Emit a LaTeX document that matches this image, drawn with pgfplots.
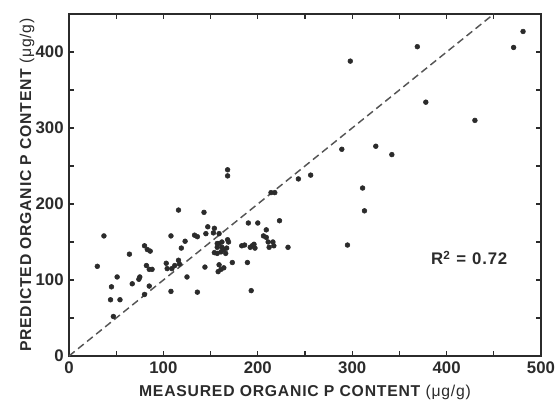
\documentclass[border=0pt]{standalone}
\usepackage{pgfplots}
\pgfplotsset{compat=1.18}
\usepackage{fontspec}
\setmainfont{Liberation Sans}
\definecolor{ink}{HTML}{2B2B2B}
\definecolor{dashc}{HTML}{555555}
\begin{document}
\begin{tikzpicture}
\useasboundingbox (-51.75pt,-35.25pt) rectangle ++(418.5pt,302.25pt);
\begin{axis}[
  at={(0,0)}, anchor=south west,
  scale only axis,
  width=354pt, height=256.5pt,
  xmin=0, xmax=500, ymin=0, ymax=450,
  xtick={0,100,...,500}, ytick={0,100,...,400},
  minor xtick={50,150,...,450}, minor ytick={50,150,...,450},
  tick align=inside,
  major tick length=3.8pt, minor tick length=3.8pt,
  every tick/.style={ink, line width=0.9pt},
  axis line style={ink, line width=1.4pt},
  /pgf/number format/assume math mode=true,
  tick label style={font=\bfseries\fontsize{12.6}{13}\selectfont, text=ink},
  xticklabel style={yshift=-1pt},
  yticklabel style={xshift=-0.5pt},
  xlabel={MEASURED ORGANIC P CONTENT {\mdseries(μg/g)}},
  ylabel={PREDICTED ORGANIC P CONTENT {\mdseries(μg/g)}},
  label style={font=\bfseries\fontsize{11.8}{13}\selectfont\addfontfeatures{LetterSpace=5}, text=ink},
  xlabel style={at={(axis description cs:0.5,-0.108)}, anchor=center},
  ylabel style={at={(axis description cs:-0.089,0.5)}, anchor=center},
  clip=false,
]
\addplot[dashc, line width=1.1pt, dash pattern=on 5.5pt off 3.2pt] coordinates {(0,0) (450,450)};
\addplot[only marks, mark=*, mark size=1.8pt, mark options={fill=ink, draw=ink}] coordinates {
(30,118) (37,158) (45,91) (44,74) (54,74) (51,104) (47,52) (64,134) (67,95)
(74,101) (75,104) (80,145) (83,140) (86,138) (82,119) (85,114) (88,114) (85,92)
(80,81) (103,122) (104,115) (109,115) (112,119) (116,126) (117,121) (108,158)
(108,85) (116,192) (119,142) (123,151) (125,104) (136,84) (133,159) (136,157)
(143,189) (144,117) (145,161) (147,170) (153,162) (154,168) (159,161) (157,148)
(159,148) (162,150) (168,153) (169,150) (154,136) (157,135) (161,137) (164,140)
(167,142) (166,135) (157,143) (162,143) (159,120) (161,114) (164,116) (158,111)
(168,237) (168,245) (173,123) (183,145) (186,146) (189,123) (192,143) (194,145)
(196,147) (197,142) (193,86) (190,175) (200,175) (206,158) (209,156) (211,150)
(216,150) (212,143) (217,145) (209,166) (223,178) (232,143) (214,215) (218,215)
(243,233) (256,238) (295,146) (289,272) (298,388) (325,276) (342,265) (311,221)
(313,191) (369,407) (378,334) (430,310) (471,406) (481,427)
};
\node[font=\bfseries\fontsize{12.6}{14}\selectfont\addfontfeatures{LetterSpace=5}, text=ink] at (axis cs:424,129) {R\textsuperscript{2}\hspace{0.35em}=\hspace{0.35em}0.72};
\end{axis}
\end{tikzpicture}
\end{document}
